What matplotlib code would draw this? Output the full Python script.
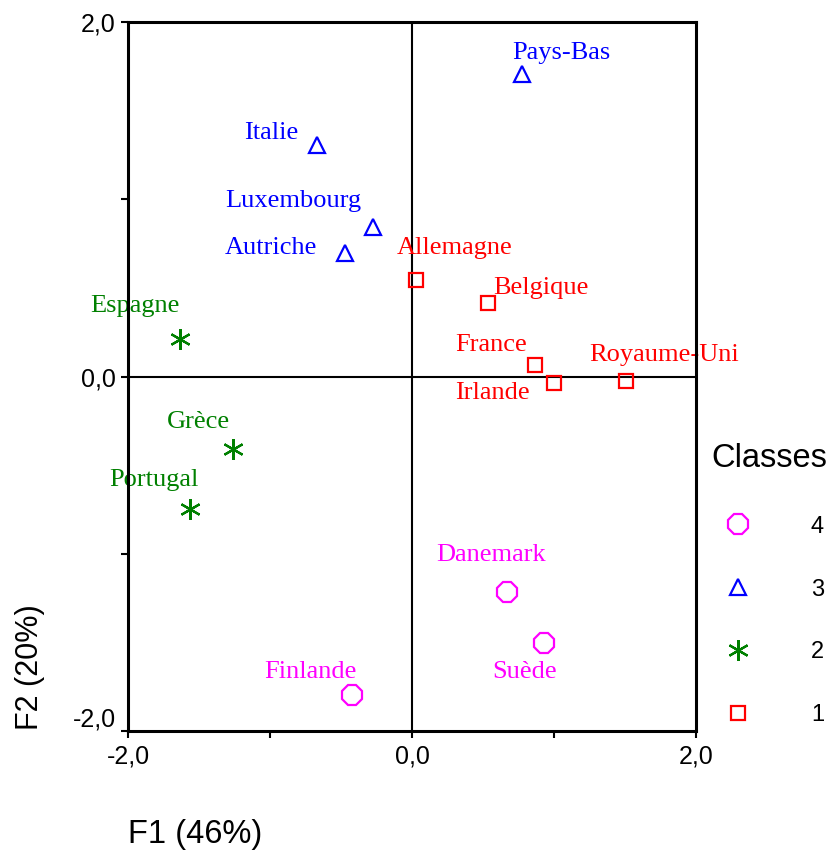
import matplotlib.pyplot as plt
from matplotlib.ticker import FixedLocator, FuncFormatter
from matplotlib.transforms import ScaledTranslation

# Factor scores of the countries on the first two axes
pays = ['Pays-Bas', 'Italie', 'Luxembourg', 'Autriche', 'Allemagne', 'Belgique',
        'France', 'Irlande', 'Royaume-Uni', 'Espagne', 'Grèce', 'Portugal',
        'Danemark', 'Suède', 'Finlande']
f1 = [0.775, -0.669, -0.275, -0.472, 0.028, 0.535,
      0.866, 1.000, 1.507, -1.634, -1.261, -1.563,
      0.669, 0.930, -0.423]
f2 = [1.707, 1.306, 0.843, 0.697, 0.544, 0.415,
      0.065, -0.037, -0.025, 0.212, -0.409, -0.748,
      -1.216, -1.504, -1.797]
classe = [3, 3, 3, 3, 1, 1,
          1, 1, 1, 2, 2, 2,
          4, 4, 4]

classes_order = [4, 3, 2, 1]

# drawing style per class
style = {
    4: dict(marker='8', color='#ff00ff', ms=15),
    3: dict(marker='^', color='#0000ff', ms=11.5),
    2: dict(marker=(6, 2, 0), color='#008000', ms=15),
    1: dict(marker='s', color='#ff0000', ms=10.5),
}

# label offsets in pixels (dx, dy) from each point
offsets = {
    'Pays-Bas': (39, 21), 'Italie': (-46, 12), 'Luxembourg': (-80, 26),
    'Autriche': (-74, 5), 'Allemagne': (39, 32), 'Belgique': (53, 15),
    'France': (-44, 20), 'Irlande': (-62, -10), 'Royaume-Uni': (38, 26),
    'Espagne': (-45, 33), 'Grèce': (-35, 27), 'Portugal': (-36, 29),
    'Danemark': (-16, 37), 'Suède': (-19, -29), 'Finlande': (-42, 23),
}

fig = plt.figure(figsize=(8.32, 8.5), dpi=100)
ax = fig.add_axes([128 / 832, 119 / 850, 568 / 832, 709 / 850])

ax.axhline(0, color='black', lw=1.5, zorder=1)
ax.axvline(0, color='black', lw=1.5, zorder=1)

for c in classes_order:
    xs = [x for x, k in zip(f1, classe) if k == c]
    ys = [y for y, k in zip(f2, classe) if k == c]
    st = style[c]
    ax.plot(xs, ys, linestyle='none', marker=st['marker'], ms=st['ms'],
            markerfacecolor='none', markeredgecolor=st['color'],
            markeredgewidth=1.6, label=str(c), zorder=3, clip_on=False)

for name, x, y, c in zip(pays, f1, f2, classe):
    dx, dy = offsets[name]
    ax.annotate(name, (x, y), xytext=(dx, dy), textcoords='offset pixels',
                ha='center', va='center', color=style[c]['color'],
                family='Liberation Serif', fontsize=19, zorder=2,
                annotation_clip=False)

ax.set_xlim(-2, 2)
ax.set_ylim(-2, 2)
ax.xaxis.set_major_locator(FixedLocator([-2, -1, 0, 1, 2]))
ax.yaxis.set_major_locator(FixedLocator([-2, -1, 0, 1, 2]))
fmt = FuncFormatter(lambda v, p: ('%.1f' % v).replace('.', ',') if v in (-2, 0, 2) else '')
ax.xaxis.set_major_formatter(fmt)
ax.yaxis.set_major_formatter(fmt)
ax.tick_params(direction='out', length=5, width=1.5, labelsize=18)
ax.tick_params(axis='x', pad=5)
ax.tick_params(axis='y', pad=4)
for lab in ax.get_xticklabels() + ax.get_yticklabels():
    lab.set_family('Liberation Sans')
# lift the bottom y label clear of the x axis
ylabs = ax.get_yticklabels()
ylabs[0].set_transform(ylabs[0].get_transform() + ScaledTranslation(0, 10 / 72, fig.dpi_scale_trans))
for sp in ax.spines.values():
    sp.set_linewidth(2.2)
    sp.set_zorder(4)

leg = ax.legend(title='Classes', loc='upper left', bbox_to_anchor=(711 / 832, 1 - 443 / 850),
                bbox_transform=fig.transFigure, frameon=False, labelspacing=1.73,
                handletextpad=2.1, borderaxespad=0, borderpad=0,
                prop={'family': 'Liberation Sans', 'size': 17},
                title_fontproperties={'family': 'Liberation Sans', 'size': 23.5})
leg._legend_box.sep = 30

fig.text(30 / 832, 1 - 667 / 850, 'F2 (20%)', rotation=90, ha='center', va='center',
         family='Liberation Sans', fontsize=22)
fig.text(195 / 832, 1 - 835 / 850, 'F1 (46%)', ha='center', va='center',
         family='Liberation Sans', fontsize=23.5)

fig.savefig('out.png', dpi=100)
